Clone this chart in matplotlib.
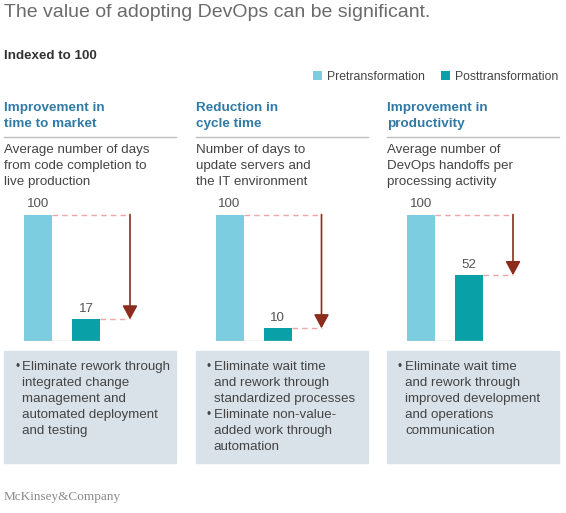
import matplotlib.pyplot as plt
from matplotlib.patches import Rectangle
from matplotlib.lines import Line2D

plt.rcParams['font.family'] = ['Liberation Sans', 'DejaVu Sans']

# data
series = ["Pretransformation", "Posttransformation"]
pre_values = [100, 100, 100]
post_values = [17, 10, 52]
headings = ["Improvement in\ntime to market",
            "Reduction in\ncycle time",
            "Improvement in\nproductivity"]
descriptions = ["Average number of days\nfrom code completion to\nlive production",
                "Number of days to\nupdate servers and\nthe IT environment",
                "Average number of\nDevOps handoffs per\nprocessing activity"]
bullets = [
    [["Eliminate rework through", "integrated change", "management and",
      "automated deployment", "and testing"]],
    [["Eliminate wait time", "and rework through", "standardized processes"],
     ["Eliminate non-value-", "added work through", "automation"]],
    [["Eliminate wait time", "and rework through", "improved development",
      "and operations", "communication"]],
]

W, H = 566, 513
PRE_C = "#7dcde0"
POST_C = "#0aa0a8"
HEAD_C = "#2f7aa6"
TEXT_C = "#444444"
BOX_C = "#d9e2e9"
ARROW_C = "#8b2c1c"
DASH_C = "#f0a6a6"

fig = plt.figure(figsize=(W / 100, H / 100), dpi=100)


def fx(x):
    return x / W


def fy(y):
    return 1 - y / H


fig.text(fx(4), fy(17), "The value of adopting DevOps can be significant.",
         fontsize=14, color="#6b6b6b", va="baseline")
fig.text(fx(4), fy(56), "Indexed to 100", fontsize=9.6, fontweight="bold",
         color="#333333", va="center")

step = 191.5
width = 28 / 48
arrow_x = (130 - 38) / 48
handles = []
for i in range(3):
    ox = i * step

    # heading, rule and description
    for k, line in enumerate(headings[i].split("\n")):
        fig.text(fx(4 + ox), fy(108 + 16 * k), line, fontsize=9.7,
                 fontweight="bold", color=HEAD_C, va="center")
    fig.add_artist(Line2D([fx(4 + ox), fx(176 + ox)], [fy(137), fy(137)],
                          color="#bdbdbd", lw=1))
    for k, line in enumerate(descriptions[i].split("\n")):
        fig.text(fx(4 + ox), fy(150 + 16 * k), line, fontsize=9.6,
                 color=TEXT_C, va="center")

    # bars
    ax = fig.add_axes([fx(4 + ox), fy(341), 172 / W, 151 / H])
    b1 = ax.bar(0, pre_values[i], width=width, color=PRE_C, label=series[0])
    b2 = ax.bar(1, post_values[i], width=width, color=POST_C, label=series[1])
    if i == 0:
        handles = [b1, b2]
    ax.plot([-width / 2, 1 + width / 2], [0, 0], color="#c8c8c8", lw=1)
    ax.set_xlim(-34 / 48, 138 / 48)
    ax.set_ylim(0, 151 / 1.265)
    ax.axis("off")
    for xpos, val in [(0, pre_values[i]), (1, post_values[i])]:
        ax.annotate(str(val), (xpos, val), xytext=(0, 3),
                    textcoords="offset points", ha="center", va="bottom",
                    fontsize=9.6, color="#555555")
    ax.plot([width / 2, arrow_x], [pre_values[i]] * 2, ls=(0, (4, 3)),
            color=DASH_C, lw=1)
    ax.plot([1 + width / 2, arrow_x], [post_values[i]] * 2, ls=(0, (4, 3)),
            color=DASH_C, lw=1)
    ax.annotate("", xy=(arrow_x, post_values[i]),
                xytext=(arrow_x, pre_values[i]),
                arrowprops=dict(arrowstyle="-|>,head_length=0.7,head_width=0.38",
                                color=ARROW_C, lw=1.2, mutation_scale=12,
                                shrinkA=0, shrinkB=0))

    # box with bullets
    fig.add_artist(Rectangle((fx(4 + ox), fy(463)), 172 / W, 112 / H,
                             transform=fig.transFigure, color=BOX_C, zorder=0))
    row = 0
    for item in bullets[i]:
        for k, line in enumerate(item):
            y = 367 + 16 * row
            if k == 0:
                fig.text(fx(15 + ox), fy(y), "\u2022", fontsize=8.5,
                         color=TEXT_C, va="center")
            fig.text(fx(22 + ox), fy(y), line, fontsize=9.6,
                     color=TEXT_C, va="center")
            row += 1

fig.legend(handles, series, loc="center right",
           bbox_to_anchor=(fx(558), fy(77)), ncol=2, frameon=False,
           fontsize=8.8, handlelength=0.75, handleheight=0.75,
           handletextpad=0.4, columnspacing=1.3, borderpad=0,
           borderaxespad=0, labelcolor="#444444")

fig.text(fx(4), fy(497), "McKinsey&Company", fontsize=9.5,
         family=["Liberation Serif", "DejaVu Serif"], color="#8a8a8a",
         va="center")

fig.savefig("out.png", dpi=100)
